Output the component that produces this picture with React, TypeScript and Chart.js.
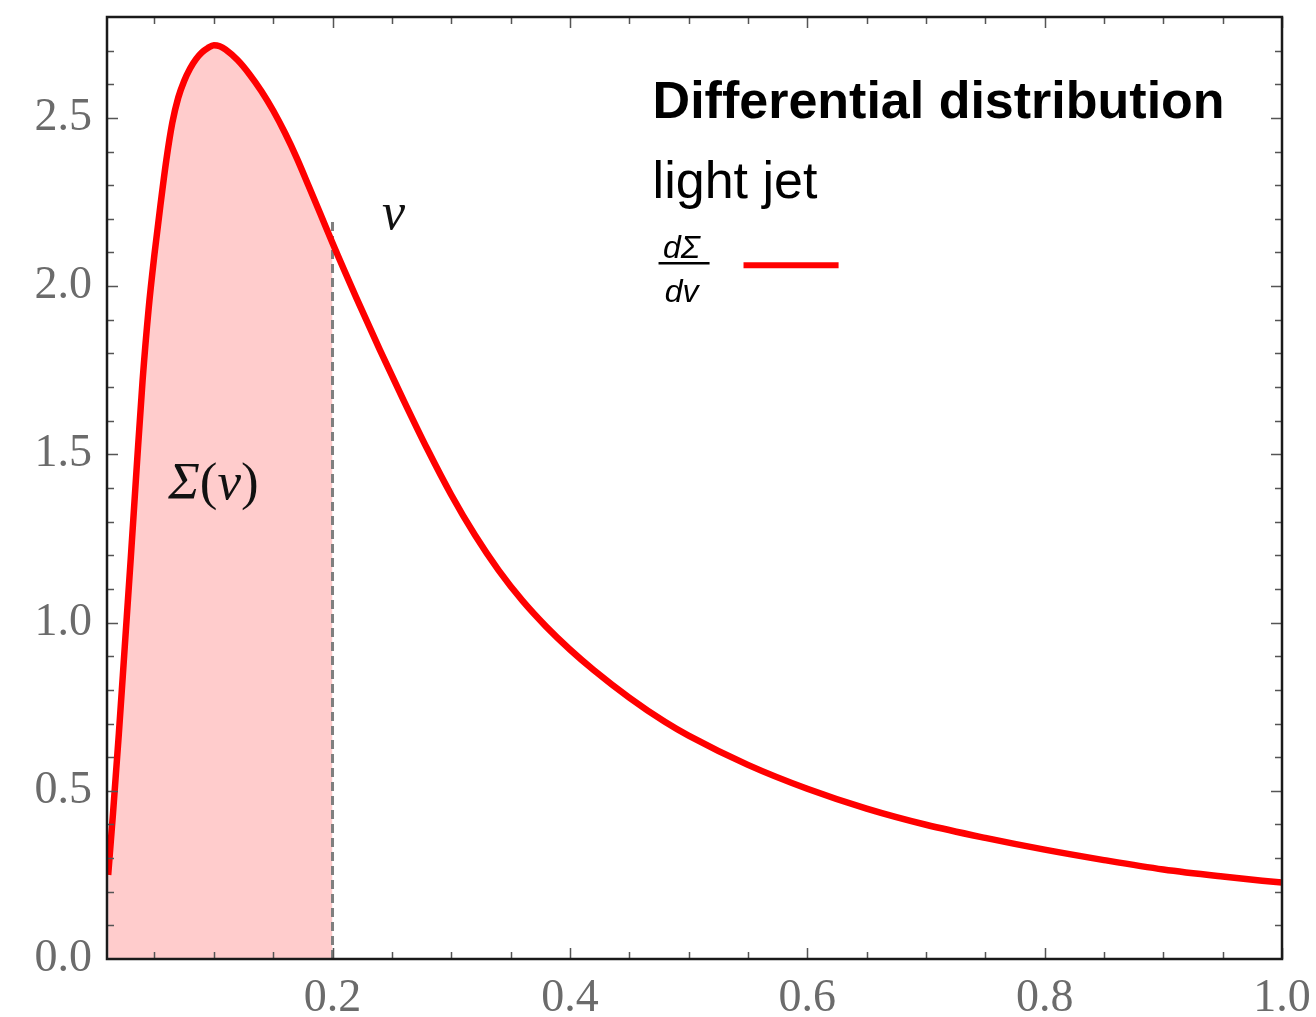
import { useEffect, useRef } from "react";
import { Chart, registerables } from "chart.js";

Chart.register(...registerables);

// v values (x axis) and dΣ/dv values (y axis)
const vValues = [
  0.011, 0.015, 0.02, 0.025, 0.03, 0.035, 0.04, 0.045, 0.05, 0.055, 0.06, 0.065, 0.07, 0.075,
  0.08, 0.085, 0.09, 0.095, 0.1, 0.105, 0.11, 0.12, 0.13, 0.14, 0.15, 0.16, 0.17, 0.18, 0.19,
  0.2, 0.22, 0.24, 0.26, 0.28, 0.3, 0.32, 0.34, 0.36, 0.38, 0.4, 0.42, 0.45, 0.48, 0.5, 0.55,
  0.6, 0.65, 0.7, 0.75, 0.8, 0.85, 0.9, 0.95, 1.0,
];
const dSigmaValues = [
  0.25, 0.43, 0.67, 0.93, 1.19, 1.46, 1.72, 1.93, 2.095, 2.24, 2.375, 2.485, 2.56, 2.61,
  2.647, 2.675, 2.695, 2.708, 2.716, 2.713, 2.703, 2.672, 2.63, 2.58, 2.522, 2.455, 2.38, 2.297, 2.213,
  2.128, 1.966, 1.81, 1.66, 1.515, 1.38, 1.26, 1.155, 1.065, 0.988, 0.92, 0.859, 0.777, 0.705, 0.664, 0.577,
  0.506, 0.447, 0.399, 0.36, 0.325, 0.294, 0.266, 0.245, 0.227,
];
const cutV = 0.2; // Σ(v) shaded up to this v
const cutLineTop = 2.2;

const xTickLabels = ["0.2", "0.4", "0.6", "0.8", "1.0"];
const yTickLabels = ["0.0", "0.5", "1.0", "1.5", "2.0", "2.5"];

const legendTitle = "Differential distribution";
const legendSubtitle = "light jet";

const X_MIN = 0.01;
const X_MAX = 1.0;
const Y_MIN = 0;
const Y_MAX = 2.8;

const SERIF = "'Liberation Serif', 'Times New Roman', serif";
const SANS = "'Liberation Sans', Arial, sans-serif";

const decorPlugin = {
  id: "decor",
  afterDatasetsDraw(chart: any) {
    const { ctx, chartArea } = chart;
    const xs = chart.scales.x;
    const ys = chart.scales.y;
    const { left, right, top, bottom } = chartArea;
    ctx.save();
    // ticks (inward, on all four sides)
    ctx.strokeStyle = "#555";
    ctx.lineWidth = 1.5;
    for (let i = 1; i <= 20; i++) {
      const v = i * 0.05;
      if (v < X_MIN || v > X_MAX + 1e-9) continue;
      const px = Math.round(xs.getPixelForValue(v)) + 0.5;
      const len = i % 4 === 0 ? 11 : 7;
      ctx.beginPath();
      ctx.moveTo(px, bottom);
      ctx.lineTo(px, bottom - len);
      ctx.moveTo(px, top);
      ctx.lineTo(px, top + len);
      ctx.stroke();
    }
    for (let i = 1; i <= 27; i++) {
      const v = i * 0.1;
      const py = Math.round(ys.getPixelForValue(v)) + 0.5;
      const len = i % 5 === 0 ? 11 : 7;
      ctx.beginPath();
      ctx.moveTo(left, py);
      ctx.lineTo(left + len, py);
      ctx.moveTo(right, py);
      ctx.lineTo(right - len, py);
      ctx.stroke();
    }
    // frame
    ctx.strokeStyle = "#1a1a1a";
    ctx.lineWidth = 2.5;
    ctx.strokeRect(left, top, right - left, bottom - top);

    // Σ(v) annotation: italic Σ and v, upright parentheses
    ctx.fillStyle = "#111";
    ctx.textBaseline = "middle";
    ctx.textAlign = "left";
    const parts: [string, string][] = [
      ["Σ", `italic 53px ${SERIF}`],
      ["(", `53px ${SERIF}`],
      ["v", `italic 53px ${SERIF}`],
      [")", `53px ${SERIF}`],
    ];
    let total = 0;
    for (const [t, f] of parts) {
      ctx.font = f;
      total += ctx.measureText(t).width;
    }
    let cx = xs.getPixelForValue(0.0997) - total / 2;
    const cy = ys.getPixelForValue(1.41);
    for (const [t, f] of parts) {
      ctx.font = f;
      ctx.fillText(t, cx, cy);
      cx += ctx.measureText(t).width;
    }
    ctx.textAlign = "center";
    ctx.font = `italic 52px ${SERIF}`;
    ctx.fillText("v", xs.getPixelForValue(0.2515), ys.getPixelForValue(2.21));

    // legend
    const lx = xs.getPixelForValue(0.4697);
    ctx.fillStyle = "#000";
    ctx.textAlign = "left";
    ctx.textBaseline = "alphabetic";
    ctx.font = `bold 52px ${SANS}`;
    ctx.fillText(legendTitle, lx, ys.getPixelForValue(2.5));
    ctx.font = `52px ${SANS}`;
    ctx.fillText(legendSubtitle, lx, ys.getPixelForValue(2.261));
    ctx.font = `italic 32px ${SANS}`;
    ctx.textAlign = "center";
    const fx = xs.getPixelForValue(0.4941);
    ctx.fillText("dΣ", fx, ys.getPixelForValue(2.083));
    ctx.fillText("dv", fx, ys.getPixelForValue(1.952));
    ctx.strokeStyle = "#000";
    ctx.lineWidth = 2.5;
    const barY = ys.getPixelForValue(2.068);
    ctx.beginPath();
    ctx.moveTo(xs.getPixelForValue(0.4747), barY);
    ctx.lineTo(xs.getPixelForValue(0.5177), barY);
    ctx.stroke();
    ctx.strokeStyle = "#ff0000";
    ctx.lineWidth = 6;
    const ly = ys.getPixelForValue(2.062);
    ctx.beginPath();
    ctx.moveTo(xs.getPixelForValue(0.5463), ly);
    ctx.lineTo(xs.getPixelForValue(0.6264), ly);
    ctx.stroke();
    ctx.restore();
  },
};

export default function App() {
  const canvasRef = useRef<HTMLCanvasElement | null>(null);

  useEffect(() => {
    const canvas = canvasRef.current;
    if (!canvas) return;
    const curve = vValues.map((v, i) => ({ x: v, y: dSigmaValues[i] }));
    const shaded = curve.filter((p) => p.x <= cutV + 1e-9);
    const cutLine = [
      { x: cutV, y: 0 },
      { x: cutV, y: cutLineTop },
    ];
    const chart = new Chart(canvas, {
      type: "line",
      data: {
        datasets: [
          {
            label: "curve",
            data: curve,
            borderColor: "#ff0000",
            borderWidth: 6.5,
            pointRadius: 0,
            cubicInterpolationMode: "monotone",
            fill: false,
            order: 0,
          },
          {
            label: "cut",
            data: cutLine,
            borderColor: "#7f7f7f",
            borderWidth: 3,
            borderDash: [9, 5],
            pointRadius: 0,
            fill: false,
            order: 1,
          },
          {
            label: "sigma",
            data: shaded,
            borderWidth: 0,
            borderColor: "rgba(0,0,0,0)",
            backgroundColor: "rgba(255,0,0,0.2)",
            pointRadius: 0,
            cubicInterpolationMode: "monotone",
            fill: "origin",
            order: 2,
          },
        ],
      },
      options: {
        animation: false,
        responsive: false,
        devicePixelRatio: 1,
        layout: { padding: { top: 17, right: 34, left: 0, bottom: 0 } },
        plugins: {
          legend: { display: false },
          tooltip: { enabled: false },
        },
        scales: {
          x: {
            type: "linear",
            min: X_MIN,
            max: X_MAX,
            afterFit: (s: any) => {
              s.height = 58;
              s.paddingLeft = 0;
              s.paddingRight = 0;
            },
            grid: { display: false, drawTicks: false },
            border: { display: false },
            ticks: {
              stepSize: 0.2,
              includeBounds: false,
              autoSkip: false,
              maxRotation: 0,
              padding: 12,
              color: "#6b6b6b",
              font: { family: SERIF, size: 46 },
              callback: (val: any) => {
                const s = Number(val).toFixed(1);
                return xTickLabels.includes(s) ? s : "";
              },
            },
          },
          y: {
            type: "linear",
            min: Y_MIN,
            max: Y_MAX,
            afterFit: (s: any) => {
              s.width = 107;
              s.paddingTop = 0;
              s.paddingBottom = 0;
            },
            grid: { display: false, drawTicks: false },
            border: { display: false },
            ticks: {
              stepSize: 0.5,
              includeBounds: false,
              autoSkip: false,
              padding: 15,
              color: "#6b6b6b",
              font: { family: SERIF, size: 46 },
              callback: (val: any) => {
                const s = Number(val).toFixed(1);
                return yTickLabels.includes(s) ? s : "";
              },
            },
          },
        },
      },
      plugins: [decorPlugin],
    });
    return () => chart.destroy();
  }, []);

  return (
    <div style={{ position: "absolute", left: 0, top: 0, width: 1316, height: 1017, background: "#fff" }}>
      <canvas ref={canvasRef} width={1316} height={1017} />
    </div>
  );
}
